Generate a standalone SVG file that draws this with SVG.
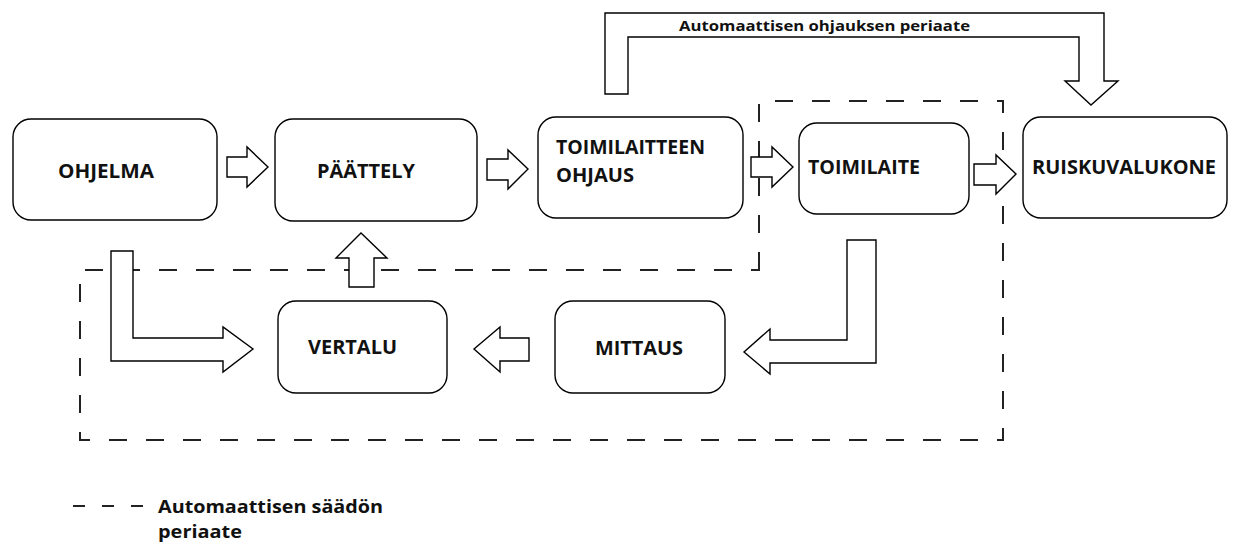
<svg xmlns="http://www.w3.org/2000/svg" width="1234" height="544" viewBox="0 0 1234 544">
<style>
.box{fill:#fff;stroke:#000;stroke-width:1.4}
.arr{fill:#fff;stroke:#000;stroke-width:1.4;stroke-linejoin:miter}
.lbl{font-family:"Open Sans","Liberation Sans",sans-serif;font-weight:bold;font-size:19px;fill:#111}
.sm{font-family:"Open Sans","Liberation Sans",sans-serif;font-weight:bold;font-size:15px;fill:#111}
.lg{font-family:"Open Sans","Liberation Sans",sans-serif;font-weight:bold;font-size:18px;fill:#111}
.dash{fill:none;stroke:#222;stroke-width:2;stroke-dasharray:18 19}
</style>
<rect width="1234" height="544" fill="#fff"/>
<g id="boundary">
<path class="dash" d="M759,270 L759,101 L1003,101 L1003,440 L80,440 L80,270 Z"/>
</g>
<g id="connectors">
<polygon class="arr" points="227,157 247,157 247,147 268,167 247,187 247,177 227,177"/>
<polygon class="arr" points="487,159 508,159 508,150 528,169 508,189 508,180 487,180"/>
<polygon class="arr" points="751,157 772,157 772,147 793,167 772,187 772,177 751,177"/>
<polygon class="arr" points="974,164 996,164 996,155 1016,174 996,194 996,185 974,185"/>
<polygon class="arr" points="605,94 605,13 1104,13 1104,81 1118,81 1091,105 1065,81 1079,81 1079,37 628,37 628,94"/>
<polygon class="arr" points="349,287 349,258 336,258 361,233 387,258 374,258 374,287"/>
<polygon class="arr" points="529,338 500,338 500,327 474,349 500,372 500,361 529,361"/>
<polygon class="arr" points="847,240 876,240 876,363 770,363 770,374 744,352 770,329 770,340 847,340"/>
<polygon class="arr" points="111,251 133,251 133,338 223,338 223,327 253,349 223,372 223,361 111,361"/>
<text class="sm" x="679" y="31" textLength="291" lengthAdjust="spacingAndGlyphs">Automaattisen ohjauksen periaate</text>
</g>
<g id="ohjelma">
<rect class="box" x="13" y="119" width="204" height="101" rx="18"/>
<text class="lbl" x="58" y="178" textLength="96" lengthAdjust="spacingAndGlyphs">OHJELMA</text>
</g>
<g id="paattely">
<rect class="box" x="275" y="119" width="202" height="102" rx="18"/>
<text class="lbl" x="317" y="178" textLength="98" lengthAdjust="spacingAndGlyphs">PÄÄTTELY</text>
</g>
<g id="toimilaitteen-ohjaus">
<rect class="box" x="538" y="117" width="205" height="101" rx="18"/>
<text class="lbl" x="556" y="154" textLength="149" lengthAdjust="spacingAndGlyphs">TOIMILAITTEEN</text>
<text class="lbl" x="556" y="182" textLength="78" lengthAdjust="spacingAndGlyphs">OHJAUS</text>
</g>
<g id="toimilaite">
<rect class="box" x="799" y="123" width="170" height="91" rx="18"/>
<text class="lbl" x="808" y="174" textLength="112" lengthAdjust="spacingAndGlyphs">TOIMILAITE</text>
</g>
<g id="ruiskuvalukone">
<rect class="box" x="1023" y="117" width="204" height="101" rx="18"/>
<text class="lbl" x="1032" y="174" textLength="184" lengthAdjust="spacingAndGlyphs">RUISKUVALUKONE</text>
</g>
<g id="vertalu">
<rect class="box" x="278" y="301" width="169" height="92" rx="18"/>
<text class="lbl" x="308" y="354" textLength="89" lengthAdjust="spacingAndGlyphs">VERTALU</text>
</g>
<g id="mittaus">
<rect class="box" x="555" y="301" width="170" height="92" rx="18"/>
<text class="lbl" x="595" y="355" textLength="88" lengthAdjust="spacingAndGlyphs">MITTAUS</text>
</g>
<g id="legend">
<line x1="73" y1="506" x2="147" y2="506" stroke="#222" stroke-width="2" stroke-dasharray="12 17"/>
<text class="lg" x="158" y="513" textLength="225" lengthAdjust="spacingAndGlyphs">Automaattisen säädön</text>
<text class="lg" x="158" y="538" textLength="84" lengthAdjust="spacingAndGlyphs">periaate</text>
</g>
</svg>
